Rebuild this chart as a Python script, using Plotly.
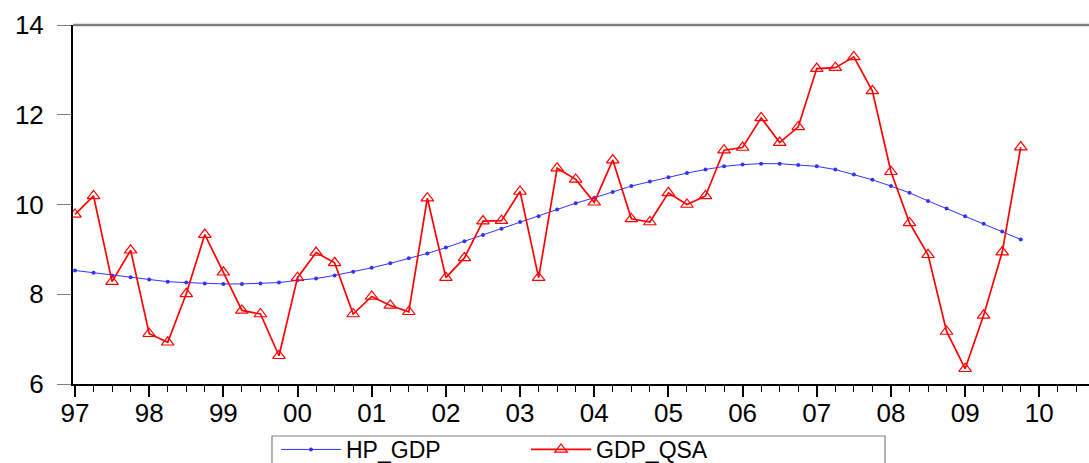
import numpy as np
import plotly.graph_objects as go

# Quarterly periods 1997Q1 .. 2009Q4
years = list(range(1997, 2010))
quarters = [1, 2, 3, 4]
periods = [y + (q - 1) / 4 for y in years for q in quarters]

gdp_qsa = [9.78, 10.19, 8.28, 8.98,
           7.12, 6.93, 8.01, 9.33,
           8.49, 7.64, 7.56, 6.63,
           8.37, 8.93, 8.70, 7.56,
           7.95, 7.75, 7.61, 10.14,
           8.37, 8.81, 9.63, 9.64,
           10.29, 8.37, 10.81, 10.56,
           10.05, 10.99, 9.68, 9.61,
           10.26, 10.00, 10.19, 11.21,
           11.27, 11.93, 11.38, 11.73,
           13.03, 13.05, 13.29, 12.53,
           10.73, 9.59, 8.88, 7.17,
           6.34, 7.53, 8.94, 11.28]

hp_gdp = [8.53, 8.48, 8.42, 8.38,
          8.33, 8.28, 8.26, 8.24,
          8.23, 8.23, 8.24, 8.26,
          8.31, 8.35, 8.42, 8.50,
          8.59, 8.69, 8.80, 8.91,
          9.04, 9.18, 9.32, 9.46,
          9.61, 9.74, 9.89, 10.03,
          10.15, 10.28, 10.41, 10.51,
          10.61, 10.70, 10.78, 10.85,
          10.89, 10.91, 10.91, 10.88,
          10.85, 10.78, 10.67, 10.55,
          10.41, 10.26, 10.08, 9.91,
          9.74, 9.57, 9.40, 9.22]

tick_years = list(range(1997, 2011))
tick_labels = ["97", "98", "99", "00", "01", "02", "03", "04", "05",
               "06", "07", "08", "09", "10"]
y_ticks = [6, 8, 10, 12, 14]

font_family = "Liberation Sans, Arial, sans-serif"

W, H = 1089, 463
ML, MR, MT, MB = 73, 0, 25, 79
pw, ph = W - ML - MR, H - MT - MB


def px_x(p):
    return (p - ML) / pw


def px_y(p):
    return (H - MB - p) / ph


fig = go.Figure()
fig.add_trace(go.Scatter(
    x=periods, y=hp_gdp, name="HP_GDP", mode="lines+markers",
    line=dict(color="rgb(50,50,255)", width=1),
    marker=dict(symbol="circle", size=4, color="rgb(50,50,255)"),
))
fig.add_trace(go.Scatter(
    x=periods, y=gdp_qsa, name="GDP_QSA", mode="lines+markers",
    line=dict(color="rgb(255,0,0)", width=1.7),
    marker=dict(symbol="triangle-up-open", size=11, color="rgb(255,0,0)",
                line=dict(width=1.2)),
))

fig.update_layout(
    width=W, height=H,
    margin=dict(l=ML, r=MR, t=MT, b=MB, autoexpand=False),
    paper_bgcolor="white", plot_bgcolor="white",
    font=dict(family=font_family, color="black", size=26),
    showlegend=True,
    legend=dict(
        orientation="h", x=px_x(276), xanchor="left", y=px_y(428),
        yanchor="top",
        borderwidth=0, bgcolor="rgba(0,0,0,0)",
        font=dict(family=font_family, size=23, color="black"),
        entrywidth=175, entrywidthmode="pixels",
        itemwidth=60, tracegroupgap=0,
    ),
    shapes=[
        dict(type="line", xref="paper", yref="paper", x0=0, x1=1,
             y0=1, y1=1, line=dict(color="gray", width=2.5)),
        dict(type="rect", xref="paper", yref="paper",
             x0=px_x(272), x1=px_x(885), y0=px_y(436), y1=px_y(470),
             line=dict(color="gray", width=1.2), layer="below"),
    ],
)

fig.update_xaxes(
    range=[1996.973, 2010.67],
    tickmode="array", tickvals=tick_years, ticktext=tick_labels,
    ticks="outside", ticklen=11, tickwidth=1.5, tickcolor="black",
    ticklabelstandoff=-6,
    showline=True, linecolor="black", linewidth=1.5,
    showgrid=False, zeroline=False,
    tickfont=dict(family=font_family, size=26, color="black"),
    minor=dict(tickmode="array",
               tickvals=list(np.arange(1997, 2011, 0.25)),
               ticks="outside", ticklen=6, tickwidth=1.2, tickcolor="black",
               showgrid=False),
)
fig.update_yaxes(
    range=[6, 14], tickmode="array", tickvals=y_ticks,
    ticks="outside", ticklen=14, tickwidth=1, tickcolor="gray",
    ticklabelstandoff=8,
    showline=True, linecolor="black", linewidth=2,
    showgrid=False, zeroline=False,
    tickfont=dict(family=font_family, size=26, color="black"),
)

fig.write_html(
    "out.html",
    config={"displayModeBar": False},
    post_script="document.body.style.margin='0';"
                "document.body.style.overflow='hidden';",
)
